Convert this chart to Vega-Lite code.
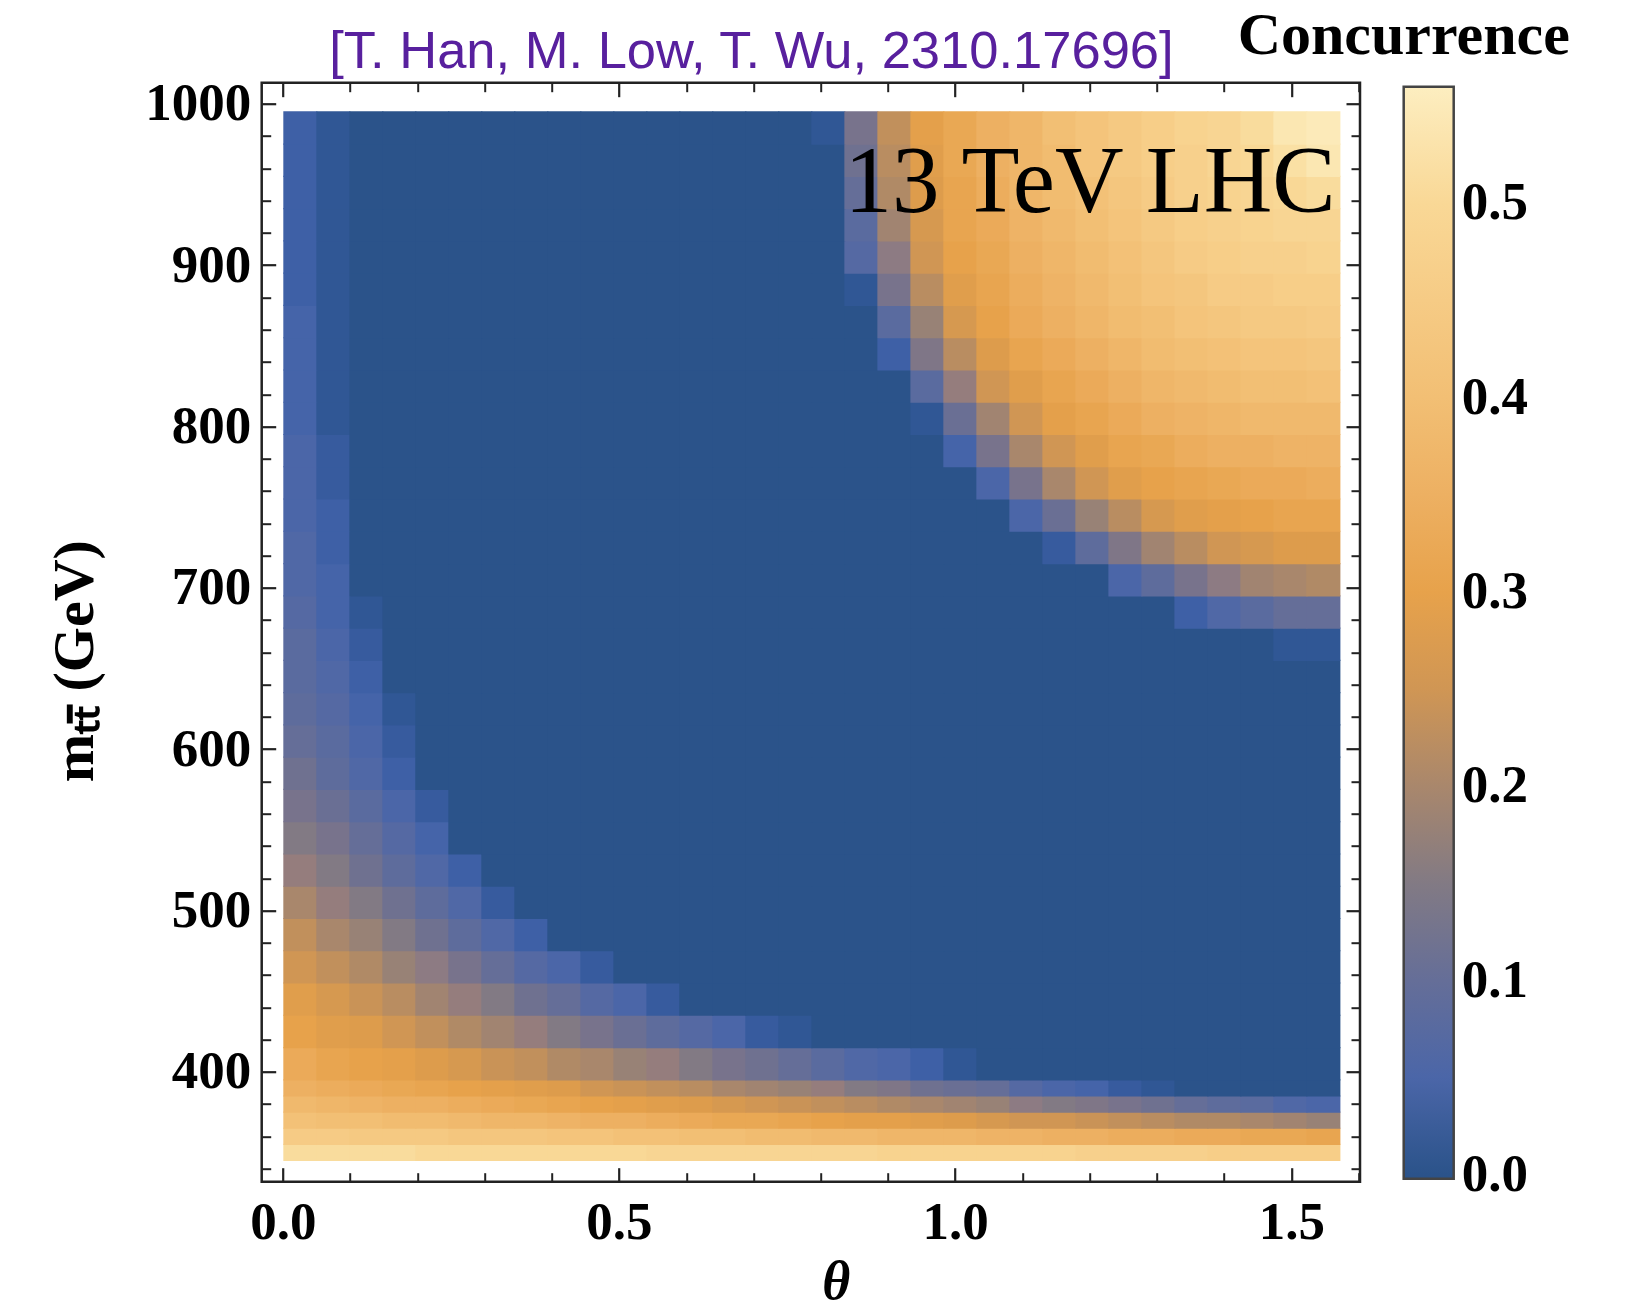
{
"$schema":"https://vega.github.io/schema/vega-lite/v6.json",
"width":1098.3,"height":1099,
"autosize":{"type":"none"},
"padding":{"left":261.7,"top":82.7,"right":284,"bottom":131.3},
"background":"white",
"config":{"view":{"stroke":"#222","strokeWidth":2.5}},
"datasets":{
"lo":[
{"t":0,"m":345,"c":0.51},{"t":0.0491,"m":345,"c":0.51},{"t":0.0982,"m":345,"c":0.51},{"t":0.1473,"m":345,"c":0.51},{"t":0.1963,"m":345,"c":0.5},{"t":0.2454,"m":345,"c":0.5},{"t":0.2945,"m":345,"c":0.5},{"t":0.3436,"m":345,"c":0.5},{"t":0.3927,"m":345,"c":0.5},{"t":0.4418,"m":345,"c":0.5},{"t":0.4909,"m":345,"c":0.5},{"t":0.54,"m":345,"c":0.49},{"t":0.589,"m":345,"c":0.49},{"t":0.6381,"m":345,"c":0.49},{"t":0.6872,"m":345,"c":0.49},{"t":0.7363,"m":345,"c":0.49},{"t":0.7854,"m":345,"c":0.49},{"t":0.8345,"m":345,"c":0.49},{"t":0.8836,"m":345,"c":0.48},{"t":0.9327,"m":345,"c":0.48},{"t":0.9817,"m":345,"c":0.48},{"t":1.0308,"m":345,"c":0.48},{"t":1.0799,"m":345,"c":0.48},{"t":1.129,"m":345,"c":0.48},{"t":1.1781,"m":345,"c":0.47},{"t":1.2272,"m":345,"c":0.47},{"t":1.2763,"m":345,"c":0.47},{"t":1.3254,"m":345,"c":0.47},{"t":1.3744,"m":345,"c":0.46},{"t":1.4235,"m":345,"c":0.46},{"t":1.4726,"m":345,"c":0.46},{"t":1.5217,"m":345,"c":0.46},
{"t":0,"m":355,"c":0.45},{"t":0.0491,"m":355,"c":0.45},{"t":0.0982,"m":355,"c":0.44},{"t":0.1473,"m":355,"c":0.44},{"t":0.1963,"m":355,"c":0.44},{"t":0.2454,"m":355,"c":0.43},{"t":0.2945,"m":355,"c":0.43},{"t":0.3436,"m":355,"c":0.43},{"t":0.3927,"m":355,"c":0.42},{"t":0.4418,"m":355,"c":0.42},{"t":0.4909,"m":355,"c":0.41},{"t":0.54,"m":355,"c":0.41},{"t":0.589,"m":355,"c":0.4},{"t":0.6381,"m":355,"c":0.4},{"t":0.6872,"m":355,"c":0.39},{"t":0.7363,"m":355,"c":0.39},{"t":0.7854,"m":355,"c":0.38},{"t":0.8345,"m":355,"c":0.38},{"t":0.8836,"m":355,"c":0.37},{"t":0.9327,"m":355,"c":0.37},{"t":0.9817,"m":355,"c":0.37},{"t":1.0308,"m":355,"c":0.36},{"t":1.0799,"m":355,"c":0.36},{"t":1.129,"m":355,"c":0.35},{"t":1.1781,"m":355,"c":0.35},{"t":1.2272,"m":355,"c":0.34},{"t":1.2763,"m":355,"c":0.34},{"t":1.3254,"m":355,"c":0.33},{"t":1.3744,"m":355,"c":0.33},{"t":1.4235,"m":355,"c":0.32},{"t":1.4726,"m":355,"c":0.32},{"t":1.5217,"m":355,"c":0.31},
{"t":0,"m":365,"c":0.41},{"t":0.0491,"m":365,"c":0.4},{"t":0.0982,"m":365,"c":0.4},{"t":0.1473,"m":365,"c":0.39},{"t":0.1963,"m":365,"c":0.39},{"t":0.2454,"m":365,"c":0.38},{"t":0.2945,"m":365,"c":0.37},{"t":0.3436,"m":365,"c":0.37},{"t":0.3927,"m":365,"c":0.36},{"t":0.4418,"m":365,"c":0.35},{"t":0.4909,"m":365,"c":0.35},{"t":0.54,"m":365,"c":0.34},{"t":0.589,"m":365,"c":0.33},{"t":0.6381,"m":365,"c":0.32},{"t":0.6872,"m":365,"c":0.32},{"t":0.7363,"m":365,"c":0.31},{"t":0.7854,"m":365,"c":0.3},{"t":0.8345,"m":365,"c":0.29},{"t":0.8836,"m":365,"c":0.29},{"t":0.9327,"m":365,"c":0.28},{"t":0.9817,"m":365,"c":0.27},{"t":1.0308,"m":365,"c":0.26},{"t":1.0799,"m":365,"c":0.25},{"t":1.129,"m":365,"c":0.25},{"t":1.1781,"m":365,"c":0.24},{"t":1.2272,"m":365,"c":0.23},{"t":1.2763,"m":365,"c":0.22},{"t":1.3254,"m":365,"c":0.21},{"t":1.3744,"m":365,"c":0.21},{"t":1.4235,"m":365,"c":0.2},{"t":1.4726,"m":365,"c":0.19},{"t":1.5217,"m":365,"c":0.18},
{"t":0,"m":375,"c":0.38},{"t":0.0491,"m":375,"c":0.37},{"t":0.0982,"m":375,"c":0.36},{"t":0.1473,"m":375,"c":0.35},{"t":0.1963,"m":375,"c":0.35},{"t":0.2454,"m":375,"c":0.34},{"t":0.2945,"m":375,"c":0.33},{"t":0.3436,"m":375,"c":0.32},{"t":0.3927,"m":375,"c":0.31},{"t":0.4418,"m":375,"c":0.3},{"t":0.4909,"m":375,"c":0.29},{"t":0.54,"m":375,"c":0.28},{"t":0.589,"m":375,"c":0.27},{"t":0.6381,"m":375,"c":0.26},{"t":0.6872,"m":375,"c":0.25},{"t":0.7363,"m":375,"c":0.24},{"t":0.7854,"m":375,"c":0.23},{"t":0.8345,"m":375,"c":0.22},{"t":0.8836,"m":375,"c":0.21},{"t":0.9327,"m":375,"c":0.2},{"t":0.9817,"m":375,"c":0.19},{"t":1.0308,"m":375,"c":0.18},{"t":1.0799,"m":375,"c":0.16},{"t":1.129,"m":375,"c":0.15},{"t":1.1781,"m":375,"c":0.14},{"t":1.2272,"m":375,"c":0.13},{"t":1.2763,"m":375,"c":0.12},{"t":1.3254,"m":375,"c":0.1},{"t":1.3744,"m":375,"c":0.09},{"t":1.4235,"m":375,"c":0.08},{"t":1.4726,"m":375,"c":0.06},{"t":1.5217,"m":375,"c":0.05},
{"t":0,"m":385,"c":0.35},{"t":0.0491,"m":385,"c":0.34},{"t":0.0982,"m":385,"c":0.33},{"t":0.1473,"m":385,"c":0.32},{"t":0.1963,"m":385,"c":0.31},{"t":0.2454,"m":385,"c":0.3},{"t":0.2945,"m":385,"c":0.29},{"t":0.3436,"m":385,"c":0.28},{"t":0.3927,"m":385,"c":0.27},{"t":0.4418,"m":385,"c":0.25},{"t":0.4909,"m":385,"c":0.24},{"t":0.54,"m":385,"c":0.23},{"t":0.589,"m":385,"c":0.22},{"t":0.6381,"m":385,"c":0.2},{"t":0.6872,"m":385,"c":0.19},{"t":0.7363,"m":385,"c":0.18},{"t":0.7854,"m":385,"c":0.17},{"t":0.8345,"m":385,"c":0.15},{"t":0.8836,"m":385,"c":0.14},{"t":0.9327,"m":385,"c":0.12},{"t":0.9817,"m":385,"c":0.11},{"t":1.0308,"m":385,"c":0.1},{"t":1.0799,"m":385,"c":0.07},{"t":1.129,"m":385,"c":0.05},{"t":1.1781,"m":385,"c":0.04},{"t":1.2272,"m":385,"c":0.02},{"t":1.2763,"m":385,"c":0.01},{"t":1.3254,"m":385,"c":0},{"t":1.3744,"m":385,"c":0},{"t":1.4235,"m":385,"c":0},{"t":1.4726,"m":385,"c":0},{"t":1.5217,"m":385,"c":0}
],
"hi":[
{"t":0,"m":395,"c":0.33},{"t":0.0491,"m":395,"c":0.31},{"t":0.0982,"m":395,"c":0.3},{"t":0.1473,"m":395,"c":0.29},{"t":0.1963,"m":395,"c":0.27},{"t":0.2454,"m":395,"c":0.26},{"t":0.2945,"m":395,"c":0.24},{"t":0.3436,"m":395,"c":0.23},{"t":0.3927,"m":395,"c":0.21},{"t":0.4418,"m":395,"c":0.2},{"t":0.4909,"m":395,"c":0.18},{"t":0.54,"m":395,"c":0.17},{"t":0.589,"m":395,"c":0.15},{"t":0.6381,"m":395,"c":0.13},{"t":0.6872,"m":395,"c":0.12},{"t":0.7363,"m":395,"c":0.1},{"t":0.7854,"m":395,"c":0.08},{"t":0.8345,"m":395,"c":0.06},{"t":0.8836,"m":395,"c":0.05},{"t":0.9327,"m":395,"c":0.03},{"t":0.9817,"m":395,"c":0.01},{"t":1.0308,"m":395,"c":0},{"t":1.0799,"m":395,"c":0},{"t":1.129,"m":395,"c":0},{"t":1.1781,"m":395,"c":0},{"t":1.2272,"m":395,"c":0},{"t":1.2763,"m":395,"c":0},{"t":1.3254,"m":395,"c":0},{"t":1.3744,"m":395,"c":0},{"t":1.4235,"m":395,"c":0},{"t":1.4726,"m":395,"c":0},{"t":1.5217,"m":395,"c":0},
{"t":0,"m":415,"c":0.3},{"t":0.0491,"m":415,"c":0.28},{"t":0.0982,"m":415,"c":0.27},{"t":0.1473,"m":415,"c":0.25},{"t":0.1963,"m":415,"c":0.23},{"t":0.2454,"m":415,"c":0.21},{"t":0.2945,"m":415,"c":0.19},{"t":0.3436,"m":415,"c":0.17},{"t":0.3927,"m":415,"c":0.15},{"t":0.4418,"m":415,"c":0.13},{"t":0.4909,"m":415,"c":0.11},{"t":0.54,"m":415,"c":0.09},{"t":0.589,"m":415,"c":0.07},{"t":0.6381,"m":415,"c":0.05},{"t":0.6872,"m":415,"c":0.02},{"t":0.7363,"m":415,"c":0.01},{"t":0.7854,"m":415,"c":0},{"t":0.8345,"m":415,"c":0},{"t":0.8836,"m":415,"c":0},{"t":0.9327,"m":415,"c":0},{"t":0.9817,"m":415,"c":0},{"t":1.0308,"m":415,"c":0},{"t":1.0799,"m":415,"c":0},{"t":1.129,"m":415,"c":0},{"t":1.1781,"m":415,"c":0},{"t":1.2272,"m":415,"c":0},{"t":1.2763,"m":415,"c":0},{"t":1.3254,"m":415,"c":0},{"t":1.3744,"m":415,"c":0},{"t":1.4235,"m":415,"c":0},{"t":1.4726,"m":415,"c":0},{"t":1.5217,"m":415,"c":0},
{"t":0,"m":435,"c":0.28},{"t":0.0491,"m":435,"c":0.26},{"t":0.0982,"m":435,"c":0.24},{"t":0.1473,"m":435,"c":0.22},{"t":0.1963,"m":435,"c":0.19},{"t":0.2454,"m":435,"c":0.17},{"t":0.2945,"m":435,"c":0.15},{"t":0.3436,"m":435,"c":0.12},{"t":0.3927,"m":435,"c":0.1},{"t":0.4418,"m":435,"c":0.07},{"t":0.4909,"m":435,"c":0.05},{"t":0.54,"m":435,"c":0.02},{"t":0.589,"m":435,"c":0},{"t":0.6381,"m":435,"c":0},{"t":0.6872,"m":435,"c":0},{"t":0.7363,"m":435,"c":0},{"t":0.7854,"m":435,"c":0},{"t":0.8345,"m":435,"c":0},{"t":0.8836,"m":435,"c":0},{"t":0.9327,"m":435,"c":0},{"t":0.9817,"m":435,"c":0},{"t":1.0308,"m":435,"c":0},{"t":1.0799,"m":435,"c":0},{"t":1.129,"m":435,"c":0},{"t":1.1781,"m":435,"c":0},{"t":1.2272,"m":435,"c":0},{"t":1.2763,"m":435,"c":0},{"t":1.3254,"m":435,"c":0},{"t":1.3744,"m":435,"c":0},{"t":1.4235,"m":435,"c":0},{"t":1.4726,"m":435,"c":0},{"t":1.5217,"m":435,"c":0},
{"t":0,"m":455,"c":0.25},{"t":0.0491,"m":455,"c":0.23},{"t":0.0982,"m":455,"c":0.21},{"t":0.1473,"m":455,"c":0.18},{"t":0.1963,"m":455,"c":0.16},{"t":0.2454,"m":455,"c":0.13},{"t":0.2945,"m":455,"c":0.1},{"t":0.3436,"m":455,"c":0.07},{"t":0.3927,"m":455,"c":0.05},{"t":0.4418,"m":455,"c":0.02},{"t":0.4909,"m":455,"c":0},{"t":0.54,"m":455,"c":0},{"t":0.589,"m":455,"c":0},{"t":0.6381,"m":455,"c":0},{"t":0.6872,"m":455,"c":0},{"t":0.7363,"m":455,"c":0},{"t":0.7854,"m":455,"c":0},{"t":0.8345,"m":455,"c":0},{"t":0.8836,"m":455,"c":0},{"t":0.9327,"m":455,"c":0},{"t":0.9817,"m":455,"c":0},{"t":1.0308,"m":455,"c":0},{"t":1.0799,"m":455,"c":0},{"t":1.129,"m":455,"c":0},{"t":1.1781,"m":455,"c":0},{"t":1.2272,"m":455,"c":0},{"t":1.2763,"m":455,"c":0},{"t":1.3254,"m":455,"c":0},{"t":1.3744,"m":455,"c":0},{"t":1.4235,"m":455,"c":0},{"t":1.4726,"m":455,"c":0},{"t":1.5217,"m":455,"c":0},
{"t":0,"m":475,"c":0.23},{"t":0.0491,"m":475,"c":0.2},{"t":0.0982,"m":475,"c":0.18},{"t":0.1473,"m":475,"c":0.15},{"t":0.1963,"m":475,"c":0.12},{"t":0.2454,"m":475,"c":0.09},{"t":0.2945,"m":475,"c":0.06},{"t":0.3436,"m":475,"c":0.03},{"t":0.3927,"m":475,"c":0},{"t":0.4418,"m":475,"c":0},{"t":0.4909,"m":475,"c":0},{"t":0.54,"m":475,"c":0},{"t":0.589,"m":475,"c":0},{"t":0.6381,"m":475,"c":0},{"t":0.6872,"m":475,"c":0},{"t":0.7363,"m":475,"c":0},{"t":0.7854,"m":475,"c":0},{"t":0.8345,"m":475,"c":0},{"t":0.8836,"m":475,"c":0},{"t":0.9327,"m":475,"c":0},{"t":0.9817,"m":475,"c":0},{"t":1.0308,"m":475,"c":0},{"t":1.0799,"m":475,"c":0},{"t":1.129,"m":475,"c":0},{"t":1.1781,"m":475,"c":0},{"t":1.2272,"m":475,"c":0},{"t":1.2763,"m":475,"c":0},{"t":1.3254,"m":475,"c":0},{"t":1.3744,"m":475,"c":0},{"t":1.4235,"m":475,"c":0},{"t":1.4726,"m":475,"c":0},{"t":1.5217,"m":475,"c":0},
{"t":0,"m":495,"c":0.2},{"t":0.0491,"m":495,"c":0.17},{"t":0.0982,"m":495,"c":0.15},{"t":0.1473,"m":495,"c":0.12},{"t":0.1963,"m":495,"c":0.09},{"t":0.2454,"m":495,"c":0.06},{"t":0.2945,"m":495,"c":0.02},{"t":0.3436,"m":495,"c":0},{"t":0.3927,"m":495,"c":0},{"t":0.4418,"m":495,"c":0},{"t":0.4909,"m":495,"c":0},{"t":0.54,"m":495,"c":0},{"t":0.589,"m":495,"c":0},{"t":0.6381,"m":495,"c":0},{"t":0.6872,"m":495,"c":0},{"t":0.7363,"m":495,"c":0},{"t":0.7854,"m":495,"c":0},{"t":0.8345,"m":495,"c":0},{"t":0.8836,"m":495,"c":0},{"t":0.9327,"m":495,"c":0},{"t":0.9817,"m":495,"c":0},{"t":1.0308,"m":495,"c":0},{"t":1.0799,"m":495,"c":0},{"t":1.129,"m":495,"c":0},{"t":1.1781,"m":495,"c":0},{"t":1.2272,"m":495,"c":0},{"t":1.2763,"m":495,"c":0},{"t":1.3254,"m":495,"c":0},{"t":1.3744,"m":495,"c":0},{"t":1.4235,"m":495,"c":0},{"t":1.4726,"m":495,"c":0},{"t":1.5217,"m":495,"c":0},
{"t":0,"m":515,"c":0.17},{"t":0.0491,"m":515,"c":0.15},{"t":0.0982,"m":515,"c":0.12},{"t":0.1473,"m":515,"c":0.09},{"t":0.1963,"m":515,"c":0.06},{"t":0.2454,"m":515,"c":0.03},{"t":0.2945,"m":515,"c":0},{"t":0.3436,"m":515,"c":0},{"t":0.3927,"m":515,"c":0},{"t":0.4418,"m":515,"c":0},{"t":0.4909,"m":515,"c":0},{"t":0.54,"m":515,"c":0},{"t":0.589,"m":515,"c":0},{"t":0.6381,"m":515,"c":0},{"t":0.6872,"m":515,"c":0},{"t":0.7363,"m":515,"c":0},{"t":0.7854,"m":515,"c":0},{"t":0.8345,"m":515,"c":0},{"t":0.8836,"m":515,"c":0},{"t":0.9327,"m":515,"c":0},{"t":0.9817,"m":515,"c":0},{"t":1.0308,"m":515,"c":0},{"t":1.0799,"m":515,"c":0},{"t":1.129,"m":515,"c":0},{"t":1.1781,"m":515,"c":0},{"t":1.2272,"m":515,"c":0},{"t":1.2763,"m":515,"c":0},{"t":1.3254,"m":515,"c":0},{"t":1.3744,"m":515,"c":0},{"t":1.4235,"m":515,"c":0},{"t":1.4726,"m":515,"c":0},{"t":1.5217,"m":515,"c":0},
{"t":0,"m":535,"c":0.15},{"t":0.0491,"m":535,"c":0.13},{"t":0.0982,"m":535,"c":0.1},{"t":0.1473,"m":535,"c":0.07},{"t":0.1963,"m":535,"c":0.04},{"t":0.2454,"m":535,"c":0},{"t":0.2945,"m":535,"c":0},{"t":0.3436,"m":535,"c":0},{"t":0.3927,"m":535,"c":0},{"t":0.4418,"m":535,"c":0},{"t":0.4909,"m":535,"c":0},{"t":0.54,"m":535,"c":0},{"t":0.589,"m":535,"c":0},{"t":0.6381,"m":535,"c":0},{"t":0.6872,"m":535,"c":0},{"t":0.7363,"m":535,"c":0},{"t":0.7854,"m":535,"c":0},{"t":0.8345,"m":535,"c":0},{"t":0.8836,"m":535,"c":0},{"t":0.9327,"m":535,"c":0},{"t":0.9817,"m":535,"c":0},{"t":1.0308,"m":535,"c":0},{"t":1.0799,"m":535,"c":0},{"t":1.129,"m":535,"c":0},{"t":1.1781,"m":535,"c":0},{"t":1.2272,"m":535,"c":0},{"t":1.2763,"m":535,"c":0},{"t":1.3254,"m":535,"c":0},{"t":1.3744,"m":535,"c":0},{"t":1.4235,"m":535,"c":0},{"t":1.4726,"m":535,"c":0},{"t":1.5217,"m":535,"c":0},
{"t":0,"m":555,"c":0.13},{"t":0.0491,"m":555,"c":0.11},{"t":0.0982,"m":555,"c":0.08},{"t":0.1473,"m":555,"c":0.05},{"t":0.1963,"m":555,"c":0.02},{"t":0.2454,"m":555,"c":0},{"t":0.2945,"m":555,"c":0},{"t":0.3436,"m":555,"c":0},{"t":0.3927,"m":555,"c":0},{"t":0.4418,"m":555,"c":0},{"t":0.4909,"m":555,"c":0},{"t":0.54,"m":555,"c":0},{"t":0.589,"m":555,"c":0},{"t":0.6381,"m":555,"c":0},{"t":0.6872,"m":555,"c":0},{"t":0.7363,"m":555,"c":0},{"t":0.7854,"m":555,"c":0},{"t":0.8345,"m":555,"c":0},{"t":0.8836,"m":555,"c":0},{"t":0.9327,"m":555,"c":0},{"t":0.9817,"m":555,"c":0},{"t":1.0308,"m":555,"c":0},{"t":1.0799,"m":555,"c":0},{"t":1.129,"m":555,"c":0},{"t":1.1781,"m":555,"c":0},{"t":1.2272,"m":555,"c":0},{"t":1.2763,"m":555,"c":0},{"t":1.3254,"m":555,"c":0},{"t":1.3744,"m":555,"c":0},{"t":1.4235,"m":555,"c":0},{"t":1.4726,"m":555,"c":0},{"t":1.5217,"m":555,"c":0},
{"t":0,"m":575,"c":0.12},{"t":0.0491,"m":575,"c":0.09},{"t":0.0982,"m":575,"c":0.06},{"t":0.1473,"m":575,"c":0.03},{"t":0.1963,"m":575,"c":0},{"t":0.2454,"m":575,"c":0},{"t":0.2945,"m":575,"c":0},{"t":0.3436,"m":575,"c":0},{"t":0.3927,"m":575,"c":0},{"t":0.4418,"m":575,"c":0},{"t":0.4909,"m":575,"c":0},{"t":0.54,"m":575,"c":0},{"t":0.589,"m":575,"c":0},{"t":0.6381,"m":575,"c":0},{"t":0.6872,"m":575,"c":0},{"t":0.7363,"m":575,"c":0},{"t":0.7854,"m":575,"c":0},{"t":0.8345,"m":575,"c":0},{"t":0.8836,"m":575,"c":0},{"t":0.9327,"m":575,"c":0},{"t":0.9817,"m":575,"c":0},{"t":1.0308,"m":575,"c":0},{"t":1.0799,"m":575,"c":0},{"t":1.129,"m":575,"c":0},{"t":1.1781,"m":575,"c":0},{"t":1.2272,"m":575,"c":0},{"t":1.2763,"m":575,"c":0},{"t":1.3254,"m":575,"c":0},{"t":1.3744,"m":575,"c":0},{"t":1.4235,"m":575,"c":0},{"t":1.4726,"m":575,"c":0},{"t":1.5217,"m":575,"c":0},
{"t":0,"m":595,"c":0.1},{"t":0.0491,"m":595,"c":0.08},{"t":0.0982,"m":595,"c":0.05},{"t":0.1473,"m":595,"c":0.02},{"t":0.1963,"m":595,"c":0},{"t":0.2454,"m":595,"c":0},{"t":0.2945,"m":595,"c":0},{"t":0.3436,"m":595,"c":0},{"t":0.3927,"m":595,"c":0},{"t":0.4418,"m":595,"c":0},{"t":0.4909,"m":595,"c":0},{"t":0.54,"m":595,"c":0},{"t":0.589,"m":595,"c":0},{"t":0.6381,"m":595,"c":0},{"t":0.6872,"m":595,"c":0},{"t":0.7363,"m":595,"c":0},{"t":0.7854,"m":595,"c":0},{"t":0.8345,"m":595,"c":0},{"t":0.8836,"m":595,"c":0},{"t":0.9327,"m":595,"c":0},{"t":0.9817,"m":595,"c":0},{"t":1.0308,"m":595,"c":0},{"t":1.0799,"m":595,"c":0},{"t":1.129,"m":595,"c":0},{"t":1.1781,"m":595,"c":0},{"t":1.2272,"m":595,"c":0},{"t":1.2763,"m":595,"c":0},{"t":1.3254,"m":595,"c":0},{"t":1.3744,"m":595,"c":0},{"t":1.4235,"m":595,"c":0},{"t":1.4726,"m":595,"c":0},{"t":1.5217,"m":595,"c":0},
{"t":0,"m":615,"c":0.09},{"t":0.0491,"m":615,"c":0.07},{"t":0.0982,"m":615,"c":0.04},{"t":0.1473,"m":615,"c":0.01},{"t":0.1963,"m":615,"c":0},{"t":0.2454,"m":615,"c":0},{"t":0.2945,"m":615,"c":0},{"t":0.3436,"m":615,"c":0},{"t":0.3927,"m":615,"c":0},{"t":0.4418,"m":615,"c":0},{"t":0.4909,"m":615,"c":0},{"t":0.54,"m":615,"c":0},{"t":0.589,"m":615,"c":0},{"t":0.6381,"m":615,"c":0},{"t":0.6872,"m":615,"c":0},{"t":0.7363,"m":615,"c":0},{"t":0.7854,"m":615,"c":0},{"t":0.8345,"m":615,"c":0},{"t":0.8836,"m":615,"c":0},{"t":0.9327,"m":615,"c":0},{"t":0.9817,"m":615,"c":0},{"t":1.0308,"m":615,"c":0},{"t":1.0799,"m":615,"c":0},{"t":1.129,"m":615,"c":0},{"t":1.1781,"m":615,"c":0},{"t":1.2272,"m":615,"c":0},{"t":1.2763,"m":615,"c":0},{"t":1.3254,"m":615,"c":0},{"t":1.3744,"m":615,"c":0},{"t":1.4235,"m":615,"c":0},{"t":1.4726,"m":615,"c":0},{"t":1.5217,"m":615,"c":0},
{"t":0,"m":635,"c":0.08},{"t":0.0491,"m":635,"c":0.06},{"t":0.0982,"m":635,"c":0.03},{"t":0.1473,"m":635,"c":0},{"t":0.1963,"m":635,"c":0},{"t":0.2454,"m":635,"c":0},{"t":0.2945,"m":635,"c":0},{"t":0.3436,"m":635,"c":0},{"t":0.3927,"m":635,"c":0},{"t":0.4418,"m":635,"c":0},{"t":0.4909,"m":635,"c":0},{"t":0.54,"m":635,"c":0},{"t":0.589,"m":635,"c":0},{"t":0.6381,"m":635,"c":0},{"t":0.6872,"m":635,"c":0},{"t":0.7363,"m":635,"c":0},{"t":0.7854,"m":635,"c":0},{"t":0.8345,"m":635,"c":0},{"t":0.8836,"m":635,"c":0},{"t":0.9327,"m":635,"c":0},{"t":0.9817,"m":635,"c":0},{"t":1.0308,"m":635,"c":0},{"t":1.0799,"m":635,"c":0},{"t":1.129,"m":635,"c":0},{"t":1.1781,"m":635,"c":0},{"t":1.2272,"m":635,"c":0},{"t":1.2763,"m":635,"c":0},{"t":1.3254,"m":635,"c":0},{"t":1.3744,"m":635,"c":0},{"t":1.4235,"m":635,"c":0},{"t":1.4726,"m":635,"c":0},{"t":1.5217,"m":635,"c":0},
{"t":0,"m":655,"c":0.08},{"t":0.0491,"m":655,"c":0.05},{"t":0.0982,"m":655,"c":0.02},{"t":0.1473,"m":655,"c":0},{"t":0.1963,"m":655,"c":0},{"t":0.2454,"m":655,"c":0},{"t":0.2945,"m":655,"c":0},{"t":0.3436,"m":655,"c":0},{"t":0.3927,"m":655,"c":0},{"t":0.4418,"m":655,"c":0},{"t":0.4909,"m":655,"c":0},{"t":0.54,"m":655,"c":0},{"t":0.589,"m":655,"c":0},{"t":0.6381,"m":655,"c":0},{"t":0.6872,"m":655,"c":0},{"t":0.7363,"m":655,"c":0},{"t":0.7854,"m":655,"c":0},{"t":0.8345,"m":655,"c":0},{"t":0.8836,"m":655,"c":0},{"t":0.9327,"m":655,"c":0},{"t":0.9817,"m":655,"c":0},{"t":1.0308,"m":655,"c":0},{"t":1.0799,"m":655,"c":0},{"t":1.129,"m":655,"c":0},{"t":1.1781,"m":655,"c":0},{"t":1.2272,"m":655,"c":0},{"t":1.2763,"m":655,"c":0},{"t":1.3254,"m":655,"c":0},{"t":1.3744,"m":655,"c":0},{"t":1.4235,"m":655,"c":0},{"t":1.4726,"m":655,"c":0.01},{"t":1.5217,"m":655,"c":0.01},
{"t":0,"m":675,"c":0.07},{"t":0.0491,"m":675,"c":0.04},{"t":0.0982,"m":675,"c":0.01},{"t":0.1473,"m":675,"c":0},{"t":0.1963,"m":675,"c":0},{"t":0.2454,"m":675,"c":0},{"t":0.2945,"m":675,"c":0},{"t":0.3436,"m":675,"c":0},{"t":0.3927,"m":675,"c":0},{"t":0.4418,"m":675,"c":0},{"t":0.4909,"m":675,"c":0},{"t":0.54,"m":675,"c":0},{"t":0.589,"m":675,"c":0},{"t":0.6381,"m":675,"c":0},{"t":0.6872,"m":675,"c":0},{"t":0.7363,"m":675,"c":0},{"t":0.7854,"m":675,"c":0},{"t":0.8345,"m":675,"c":0},{"t":0.8836,"m":675,"c":0},{"t":0.9327,"m":675,"c":0},{"t":0.9817,"m":675,"c":0},{"t":1.0308,"m":675,"c":0},{"t":1.0799,"m":675,"c":0},{"t":1.129,"m":675,"c":0},{"t":1.1781,"m":675,"c":0},{"t":1.2272,"m":675,"c":0},{"t":1.2763,"m":675,"c":0},{"t":1.3254,"m":675,"c":0.03},{"t":1.3744,"m":675,"c":0.06},{"t":1.4235,"m":675,"c":0.08},{"t":1.4726,"m":675,"c":0.1},{"t":1.5217,"m":675,"c":0.1},
{"t":0,"m":695,"c":0.06},{"t":0.0491,"m":695,"c":0.04},{"t":0.0982,"m":695,"c":0},{"t":0.1473,"m":695,"c":0},{"t":0.1963,"m":695,"c":0},{"t":0.2454,"m":695,"c":0},{"t":0.2945,"m":695,"c":0},{"t":0.3436,"m":695,"c":0},{"t":0.3927,"m":695,"c":0},{"t":0.4418,"m":695,"c":0},{"t":0.4909,"m":695,"c":0},{"t":0.54,"m":695,"c":0},{"t":0.589,"m":695,"c":0},{"t":0.6381,"m":695,"c":0},{"t":0.6872,"m":695,"c":0},{"t":0.7363,"m":695,"c":0},{"t":0.7854,"m":695,"c":0},{"t":0.8345,"m":695,"c":0},{"t":0.8836,"m":695,"c":0},{"t":0.9327,"m":695,"c":0},{"t":0.9817,"m":695,"c":0},{"t":1.0308,"m":695,"c":0},{"t":1.0799,"m":695,"c":0},{"t":1.129,"m":695,"c":0},{"t":1.1781,"m":695,"c":0},{"t":1.2272,"m":695,"c":0.05},{"t":1.2763,"m":695,"c":0.09},{"t":1.3254,"m":695,"c":0.13},{"t":1.3744,"m":695,"c":0.16},{"t":1.4235,"m":695,"c":0.19},{"t":1.4726,"m":695,"c":0.2},{"t":1.5217,"m":695,"c":0.21},
{"t":0,"m":715,"c":0.06},{"t":0.0491,"m":715,"c":0.03},{"t":0.0982,"m":715,"c":0},{"t":0.1473,"m":715,"c":0},{"t":0.1963,"m":715,"c":0},{"t":0.2454,"m":715,"c":0},{"t":0.2945,"m":715,"c":0},{"t":0.3436,"m":715,"c":0},{"t":0.3927,"m":715,"c":0},{"t":0.4418,"m":715,"c":0},{"t":0.4909,"m":715,"c":0},{"t":0.54,"m":715,"c":0},{"t":0.589,"m":715,"c":0},{"t":0.6381,"m":715,"c":0},{"t":0.6872,"m":715,"c":0},{"t":0.7363,"m":715,"c":0},{"t":0.7854,"m":715,"c":0},{"t":0.8345,"m":715,"c":0},{"t":0.8836,"m":715,"c":0},{"t":0.9327,"m":715,"c":0},{"t":0.9817,"m":715,"c":0},{"t":1.0308,"m":715,"c":0},{"t":1.0799,"m":715,"c":0},{"t":1.129,"m":715,"c":0.02},{"t":1.1781,"m":715,"c":0.09},{"t":1.2272,"m":715,"c":0.14},{"t":1.2763,"m":715,"c":0.19},{"t":1.3254,"m":715,"c":0.22},{"t":1.3744,"m":715,"c":0.25},{"t":1.4235,"m":715,"c":0.26},{"t":1.4726,"m":715,"c":0.27},{"t":1.5217,"m":715,"c":0.27},
{"t":0,"m":735,"c":0.05},{"t":0.0491,"m":735,"c":0.03},{"t":0.0982,"m":735,"c":0},{"t":0.1473,"m":735,"c":0},{"t":0.1963,"m":735,"c":0},{"t":0.2454,"m":735,"c":0},{"t":0.2945,"m":735,"c":0},{"t":0.3436,"m":735,"c":0},{"t":0.3927,"m":735,"c":0},{"t":0.4418,"m":735,"c":0},{"t":0.4909,"m":735,"c":0},{"t":0.54,"m":735,"c":0},{"t":0.589,"m":735,"c":0},{"t":0.6381,"m":735,"c":0},{"t":0.6872,"m":735,"c":0},{"t":0.7363,"m":735,"c":0},{"t":0.7854,"m":735,"c":0},{"t":0.8345,"m":735,"c":0},{"t":0.8836,"m":735,"c":0},{"t":0.9327,"m":735,"c":0},{"t":0.9817,"m":735,"c":0},{"t":1.0308,"m":735,"c":0},{"t":1.0799,"m":735,"c":0.05},{"t":1.129,"m":735,"c":0.11},{"t":1.1781,"m":735,"c":0.18},{"t":1.2272,"m":735,"c":0.22},{"t":1.2763,"m":735,"c":0.26},{"t":1.3254,"m":735,"c":0.28},{"t":1.3744,"m":735,"c":0.29},{"t":1.4235,"m":735,"c":0.3},{"t":1.4726,"m":735,"c":0.31},{"t":1.5217,"m":735,"c":0.31},
{"t":0,"m":755,"c":0.05},{"t":0.0491,"m":755,"c":0.02},{"t":0.0982,"m":755,"c":0},{"t":0.1473,"m":755,"c":0},{"t":0.1963,"m":755,"c":0},{"t":0.2454,"m":755,"c":0},{"t":0.2945,"m":755,"c":0},{"t":0.3436,"m":755,"c":0},{"t":0.3927,"m":755,"c":0},{"t":0.4418,"m":755,"c":0},{"t":0.4909,"m":755,"c":0},{"t":0.54,"m":755,"c":0},{"t":0.589,"m":755,"c":0},{"t":0.6381,"m":755,"c":0},{"t":0.6872,"m":755,"c":0},{"t":0.7363,"m":755,"c":0},{"t":0.7854,"m":755,"c":0},{"t":0.8345,"m":755,"c":0},{"t":0.8836,"m":755,"c":0},{"t":0.9327,"m":755,"c":0},{"t":0.9817,"m":755,"c":0},{"t":1.0308,"m":755,"c":0.05},{"t":1.0799,"m":755,"c":0.13},{"t":1.129,"m":755,"c":0.2},{"t":1.1781,"m":755,"c":0.25},{"t":1.2272,"m":755,"c":0.28},{"t":1.2763,"m":755,"c":0.3},{"t":1.3254,"m":755,"c":0.31},{"t":1.3744,"m":755,"c":0.32},{"t":1.4235,"m":755,"c":0.33},{"t":1.4726,"m":755,"c":0.33},{"t":1.5217,"m":755,"c":0.34},
{"t":0,"m":775,"c":0.05},{"t":0.0491,"m":775,"c":0.02},{"t":0.0982,"m":775,"c":0},{"t":0.1473,"m":775,"c":0},{"t":0.1963,"m":775,"c":0},{"t":0.2454,"m":775,"c":0},{"t":0.2945,"m":775,"c":0},{"t":0.3436,"m":775,"c":0},{"t":0.3927,"m":775,"c":0},{"t":0.4418,"m":775,"c":0},{"t":0.4909,"m":775,"c":0},{"t":0.54,"m":775,"c":0},{"t":0.589,"m":775,"c":0},{"t":0.6381,"m":775,"c":0},{"t":0.6872,"m":775,"c":0},{"t":0.7363,"m":775,"c":0},{"t":0.7854,"m":775,"c":0},{"t":0.8345,"m":775,"c":0},{"t":0.8836,"m":775,"c":0},{"t":0.9327,"m":775,"c":0},{"t":0.9817,"m":775,"c":0.04},{"t":1.0308,"m":775,"c":0.13},{"t":1.0799,"m":775,"c":0.2},{"t":1.129,"m":775,"c":0.25},{"t":1.1781,"m":775,"c":0.28},{"t":1.2272,"m":775,"c":0.31},{"t":1.2763,"m":775,"c":0.32},{"t":1.3254,"m":775,"c":0.34},{"t":1.3744,"m":775,"c":0.35},{"t":1.4235,"m":775,"c":0.35},{"t":1.4726,"m":775,"c":0.36},{"t":1.5217,"m":775,"c":0.36},
{"t":0,"m":795,"c":0.04},{"t":0.0491,"m":795,"c":0.01},{"t":0.0982,"m":795,"c":0},{"t":0.1473,"m":795,"c":0},{"t":0.1963,"m":795,"c":0},{"t":0.2454,"m":795,"c":0},{"t":0.2945,"m":795,"c":0},{"t":0.3436,"m":795,"c":0},{"t":0.3927,"m":795,"c":0},{"t":0.4418,"m":795,"c":0},{"t":0.4909,"m":795,"c":0},{"t":0.54,"m":795,"c":0},{"t":0.589,"m":795,"c":0},{"t":0.6381,"m":795,"c":0},{"t":0.6872,"m":795,"c":0},{"t":0.7363,"m":795,"c":0},{"t":0.7854,"m":795,"c":0},{"t":0.8345,"m":795,"c":0},{"t":0.8836,"m":795,"c":0},{"t":0.9327,"m":795,"c":0.01},{"t":0.9817,"m":795,"c":0.11},{"t":1.0308,"m":795,"c":0.19},{"t":1.0799,"m":795,"c":0.25},{"t":1.129,"m":795,"c":0.29},{"t":1.1781,"m":795,"c":0.31},{"t":1.2272,"m":795,"c":0.33},{"t":1.2763,"m":795,"c":0.35},{"t":1.3254,"m":795,"c":0.36},{"t":1.3744,"m":795,"c":0.37},{"t":1.4235,"m":795,"c":0.38},{"t":1.4726,"m":795,"c":0.38},{"t":1.5217,"m":795,"c":0.38},
{"t":0,"m":815,"c":0.04},{"t":0.0491,"m":815,"c":0.01},{"t":0.0982,"m":815,"c":0},{"t":0.1473,"m":815,"c":0},{"t":0.1963,"m":815,"c":0},{"t":0.2454,"m":815,"c":0},{"t":0.2945,"m":815,"c":0},{"t":0.3436,"m":815,"c":0},{"t":0.3927,"m":815,"c":0},{"t":0.4418,"m":815,"c":0},{"t":0.4909,"m":815,"c":0},{"t":0.54,"m":815,"c":0},{"t":0.589,"m":815,"c":0},{"t":0.6381,"m":815,"c":0},{"t":0.6872,"m":815,"c":0},{"t":0.7363,"m":815,"c":0},{"t":0.7854,"m":815,"c":0},{"t":0.8345,"m":815,"c":0},{"t":0.8836,"m":815,"c":0},{"t":0.9327,"m":815,"c":0.08},{"t":0.9817,"m":815,"c":0.17},{"t":1.0308,"m":815,"c":0.25},{"t":1.0799,"m":815,"c":0.28},{"t":1.129,"m":815,"c":0.31},{"t":1.1781,"m":815,"c":0.33},{"t":1.2272,"m":815,"c":0.35},{"t":1.2763,"m":815,"c":0.37},{"t":1.3254,"m":815,"c":0.38},{"t":1.3744,"m":815,"c":0.39},{"t":1.4235,"m":815,"c":0.4},{"t":1.4726,"m":815,"c":0.4},{"t":1.5217,"m":815,"c":0.41},
{"t":0,"m":835,"c":0.04},{"t":0.0491,"m":835,"c":0.01},{"t":0.0982,"m":835,"c":0},{"t":0.1473,"m":835,"c":0},{"t":0.1963,"m":835,"c":0},{"t":0.2454,"m":835,"c":0},{"t":0.2945,"m":835,"c":0},{"t":0.3436,"m":835,"c":0},{"t":0.3927,"m":835,"c":0},{"t":0.4418,"m":835,"c":0},{"t":0.4909,"m":835,"c":0},{"t":0.54,"m":835,"c":0},{"t":0.589,"m":835,"c":0},{"t":0.6381,"m":835,"c":0},{"t":0.6872,"m":835,"c":0},{"t":0.7363,"m":835,"c":0},{"t":0.7854,"m":835,"c":0},{"t":0.8345,"m":835,"c":0},{"t":0.8836,"m":835,"c":0.03},{"t":0.9327,"m":835,"c":0.14},{"t":0.9817,"m":835,"c":0.22},{"t":1.0308,"m":835,"c":0.27},{"t":1.0799,"m":835,"c":0.31},{"t":1.129,"m":835,"c":0.33},{"t":1.1781,"m":835,"c":0.35},{"t":1.2272,"m":835,"c":0.37},{"t":1.2763,"m":835,"c":0.39},{"t":1.3254,"m":835,"c":0.4},{"t":1.3744,"m":835,"c":0.41},{"t":1.4235,"m":835,"c":0.42},{"t":1.4726,"m":835,"c":0.42},{"t":1.5217,"m":835,"c":0.43},
{"t":0,"m":855,"c":0.04},{"t":0.0491,"m":855,"c":0.01},{"t":0.0982,"m":855,"c":0},{"t":0.1473,"m":855,"c":0},{"t":0.1963,"m":855,"c":0},{"t":0.2454,"m":855,"c":0},{"t":0.2945,"m":855,"c":0},{"t":0.3436,"m":855,"c":0},{"t":0.3927,"m":855,"c":0},{"t":0.4418,"m":855,"c":0},{"t":0.4909,"m":855,"c":0},{"t":0.54,"m":855,"c":0},{"t":0.589,"m":855,"c":0},{"t":0.6381,"m":855,"c":0},{"t":0.6872,"m":855,"c":0},{"t":0.7363,"m":855,"c":0},{"t":0.7854,"m":855,"c":0},{"t":0.8345,"m":855,"c":0},{"t":0.8836,"m":855,"c":0.08},{"t":0.9327,"m":855,"c":0.18},{"t":0.9817,"m":855,"c":0.26},{"t":1.0308,"m":855,"c":0.3},{"t":1.0799,"m":855,"c":0.33},{"t":1.129,"m":855,"c":0.35},{"t":1.1781,"m":855,"c":0.37},{"t":1.2272,"m":855,"c":0.39},{"t":1.2763,"m":855,"c":0.4},{"t":1.3254,"m":855,"c":0.42},{"t":1.3744,"m":855,"c":0.43},{"t":1.4235,"m":855,"c":0.44},{"t":1.4726,"m":855,"c":0.44},{"t":1.5217,"m":855,"c":0.45},
{"t":0,"m":875,"c":0.03},{"t":0.0491,"m":875,"c":0.01},{"t":0.0982,"m":875,"c":0},{"t":0.1473,"m":875,"c":0},{"t":0.1963,"m":875,"c":0},{"t":0.2454,"m":875,"c":0},{"t":0.2945,"m":875,"c":0},{"t":0.3436,"m":875,"c":0},{"t":0.3927,"m":875,"c":0},{"t":0.4418,"m":875,"c":0},{"t":0.4909,"m":875,"c":0},{"t":0.54,"m":875,"c":0},{"t":0.589,"m":875,"c":0},{"t":0.6381,"m":875,"c":0},{"t":0.6872,"m":875,"c":0},{"t":0.7363,"m":875,"c":0},{"t":0.7854,"m":875,"c":0},{"t":0.8345,"m":875,"c":0.01},{"t":0.8836,"m":875,"c":0.13},{"t":0.9327,"m":875,"c":0.22},{"t":0.9817,"m":875,"c":0.28},{"t":1.0308,"m":875,"c":0.31},{"t":1.0799,"m":875,"c":0.34},{"t":1.129,"m":875,"c":0.36},{"t":1.1781,"m":875,"c":0.38},{"t":1.2272,"m":875,"c":0.4},{"t":1.2763,"m":875,"c":0.42},{"t":1.3254,"m":875,"c":0.43},{"t":1.3744,"m":875,"c":0.45},{"t":1.4235,"m":875,"c":0.45},{"t":1.4726,"m":875,"c":0.46},{"t":1.5217,"m":875,"c":0.46},
{"t":0,"m":895,"c":0.03},{"t":0.0491,"m":895,"c":0.01},{"t":0.0982,"m":895,"c":0},{"t":0.1473,"m":895,"c":0},{"t":0.1963,"m":895,"c":0},{"t":0.2454,"m":895,"c":0},{"t":0.2945,"m":895,"c":0},{"t":0.3436,"m":895,"c":0},{"t":0.3927,"m":895,"c":0},{"t":0.4418,"m":895,"c":0},{"t":0.4909,"m":895,"c":0},{"t":0.54,"m":895,"c":0},{"t":0.589,"m":895,"c":0},{"t":0.6381,"m":895,"c":0},{"t":0.6872,"m":895,"c":0},{"t":0.7363,"m":895,"c":0},{"t":0.7854,"m":895,"c":0},{"t":0.8345,"m":895,"c":0.07},{"t":0.8836,"m":895,"c":0.16},{"t":0.9327,"m":895,"c":0.25},{"t":0.9817,"m":895,"c":0.3},{"t":1.0308,"m":895,"c":0.32},{"t":1.0799,"m":895,"c":0.35},{"t":1.129,"m":895,"c":0.37},{"t":1.1781,"m":895,"c":0.39},{"t":1.2272,"m":895,"c":0.41},{"t":1.2763,"m":895,"c":0.43},{"t":1.3254,"m":895,"c":0.45},{"t":1.3744,"m":895,"c":0.46},{"t":1.4235,"m":895,"c":0.47},{"t":1.4726,"m":895,"c":0.47},{"t":1.5217,"m":895,"c":0.48},
{"t":0,"m":915,"c":0.03},{"t":0.0491,"m":915,"c":0.01},{"t":0.0982,"m":915,"c":0},{"t":0.1473,"m":915,"c":0},{"t":0.1963,"m":915,"c":0},{"t":0.2454,"m":915,"c":0},{"t":0.2945,"m":915,"c":0},{"t":0.3436,"m":915,"c":0},{"t":0.3927,"m":915,"c":0},{"t":0.4418,"m":915,"c":0},{"t":0.4909,"m":915,"c":0},{"t":0.54,"m":915,"c":0},{"t":0.589,"m":915,"c":0},{"t":0.6381,"m":915,"c":0},{"t":0.6872,"m":915,"c":0},{"t":0.7363,"m":915,"c":0},{"t":0.7854,"m":915,"c":0},{"t":0.8345,"m":915,"c":0.08},{"t":0.8836,"m":915,"c":0.19},{"t":0.9327,"m":915,"c":0.26},{"t":0.9817,"m":915,"c":0.31},{"t":1.0308,"m":915,"c":0.33},{"t":1.0799,"m":915,"c":0.36},{"t":1.129,"m":915,"c":0.38},{"t":1.1781,"m":915,"c":0.4},{"t":1.2272,"m":915,"c":0.42},{"t":1.2763,"m":915,"c":0.44},{"t":1.3254,"m":915,"c":0.46},{"t":1.3744,"m":915,"c":0.47},{"t":1.4235,"m":915,"c":0.48},{"t":1.4726,"m":915,"c":0.49},{"t":1.5217,"m":915,"c":0.49},
{"t":0,"m":935,"c":0.03},{"t":0.0491,"m":935,"c":0.01},{"t":0.0982,"m":935,"c":0},{"t":0.1473,"m":935,"c":0},{"t":0.1963,"m":935,"c":0},{"t":0.2454,"m":935,"c":0},{"t":0.2945,"m":935,"c":0},{"t":0.3436,"m":935,"c":0},{"t":0.3927,"m":935,"c":0},{"t":0.4418,"m":935,"c":0},{"t":0.4909,"m":935,"c":0},{"t":0.54,"m":935,"c":0},{"t":0.589,"m":935,"c":0},{"t":0.6381,"m":935,"c":0},{"t":0.6872,"m":935,"c":0},{"t":0.7363,"m":935,"c":0},{"t":0.7854,"m":935,"c":0},{"t":0.8345,"m":935,"c":0.1},{"t":0.8836,"m":935,"c":0.21},{"t":0.9327,"m":935,"c":0.27},{"t":0.9817,"m":935,"c":0.31},{"t":1.0308,"m":935,"c":0.34},{"t":1.0799,"m":935,"c":0.37},{"t":1.129,"m":935,"c":0.39},{"t":1.1781,"m":935,"c":0.41},{"t":1.2272,"m":935,"c":0.43},{"t":1.2763,"m":935,"c":0.45},{"t":1.3254,"m":935,"c":0.47},{"t":1.3744,"m":935,"c":0.48},{"t":1.4235,"m":935,"c":0.49},{"t":1.4726,"m":935,"c":0.5},{"t":1.5217,"m":935,"c":0.51},
{"t":0,"m":955,"c":0.03},{"t":0.0491,"m":955,"c":0.01},{"t":0.0982,"m":955,"c":0},{"t":0.1473,"m":955,"c":0},{"t":0.1963,"m":955,"c":0},{"t":0.2454,"m":955,"c":0},{"t":0.2945,"m":955,"c":0},{"t":0.3436,"m":955,"c":0},{"t":0.3927,"m":955,"c":0},{"t":0.4418,"m":955,"c":0},{"t":0.4909,"m":955,"c":0},{"t":0.54,"m":955,"c":0},{"t":0.589,"m":955,"c":0},{"t":0.6381,"m":955,"c":0},{"t":0.6872,"m":955,"c":0},{"t":0.7363,"m":955,"c":0},{"t":0.7854,"m":955,"c":0},{"t":0.8345,"m":955,"c":0.12},{"t":0.8836,"m":955,"c":0.22},{"t":0.9327,"m":955,"c":0.28},{"t":0.9817,"m":955,"c":0.32},{"t":1.0308,"m":955,"c":0.35},{"t":1.0799,"m":955,"c":0.37},{"t":1.129,"m":955,"c":0.39},{"t":1.1781,"m":955,"c":0.42},{"t":1.2272,"m":955,"c":0.44},{"t":1.2763,"m":955,"c":0.46},{"t":1.3254,"m":955,"c":0.47},{"t":1.3744,"m":955,"c":0.49},{"t":1.4235,"m":955,"c":0.5},{"t":1.4726,"m":955,"c":0.52},{"t":1.5217,"m":955,"c":0.54},
{"t":0,"m":975,"c":0.03},{"t":0.0491,"m":975,"c":0.01},{"t":0.0982,"m":975,"c":0},{"t":0.1473,"m":975,"c":0},{"t":0.1963,"m":975,"c":0},{"t":0.2454,"m":975,"c":0},{"t":0.2945,"m":975,"c":0},{"t":0.3436,"m":975,"c":0},{"t":0.3927,"m":975,"c":0},{"t":0.4418,"m":975,"c":0},{"t":0.4909,"m":975,"c":0},{"t":0.54,"m":975,"c":0},{"t":0.589,"m":975,"c":0},{"t":0.6381,"m":975,"c":0},{"t":0.6872,"m":975,"c":0},{"t":0.7363,"m":975,"c":0},{"t":0.7854,"m":975,"c":0.01},{"t":0.8345,"m":975,"c":0.13},{"t":0.8836,"m":975,"c":0.23},{"t":0.9327,"m":975,"c":0.29},{"t":0.9817,"m":975,"c":0.32},{"t":1.0308,"m":975,"c":0.35},{"t":1.0799,"m":975,"c":0.37},{"t":1.129,"m":975,"c":0.4},{"t":1.1781,"m":975,"c":0.42},{"t":1.2272,"m":975,"c":0.44},{"t":1.2763,"m":975,"c":0.46},{"t":1.3254,"m":975,"c":0.48},{"t":1.3744,"m":975,"c":0.49},{"t":1.4235,"m":975,"c":0.51},{"t":1.4726,"m":975,"c":0.54},{"t":1.5217,"m":975,"c":0.55}
]
},
"resolve":{"axis":{"x":"independent","y":"independent"}},
"layer":[
{"data":{"name":"lo"},
 "mark":{"type":"rect"},
 "encoding":{
  "x":{"field":"t","type":"quantitative","bin":{"binned":true,"step":0.0506},
   "scale":{"domain":[-0.0314,1.6022],"nice":false,"zero":false},
   "axis":{"orient":"bottom","values":[0,0.5,1,1.5],"format":".1f","ticks":false,"domain":false,"grid":false,"labelFlush":false,"labelOverlap":false,
    "labelFont":"Liberation Serif","labelFontWeight":"bold","labelFontSize":53,"labelColor":"black","labelPadding":15,
    "title":"θ","titleFont":"Liberation Serif","titleFontStyle":"italic","titleFontWeight":"bold","titleFontSize":54,"titleColor":"black","titlePadding":6,"titleX":574}},
  "y":{"field":"m","type":"quantitative","bin":{"binned":true,"step":10.7},
   "scale":{"domain":[331.9,1013.1],"nice":false,"zero":false},
   "axis":{"orient":"left","values":[400,500,600,700,800,900,1000],"format":"d","ticks":false,"domain":false,"grid":false,"labelFlush":false,"labelOverlap":false,
    "labelFont":"Liberation Serif","labelFontWeight":"bold","labelFontSize":53,"labelColor":"black","labelPadding":11,
    "title":"m\u209c\u209c\u0304 (GeV)","titleFont":"Liberation Serif","titleFontWeight":"bold","titleFontSize":58,"titleColor":"black","titlePadding":40,"titleY":578}},
  "color":{"field":"c","type":"quantitative",
   "scale":{"domain":[-0.002,0.015,0.035,0.06,0.09,0.12,0.15,0.18,0.21,0.24,0.27,0.3,0.35,0.4,0.45,0.5,0.56],
    "range":["#2a5288","#33599a","#4263aa","#5068a6","#5e6c9c","#6f7190","#827a84","#988276","#b08a66","#c99357","#dd9c4c","#e7a24b","#edb062","#f2bf74","#f6cb85","#f9d896","#fdeec0"]},
   "legend":{"title":"Concurrence","orient":"none","legendX":976,"legendY":-76,"direction":"vertical","type":"gradient",
    "gradientLength":1092,"gradientThickness":50,"gradientStrokeColor":"#444","gradientStrokeWidth":2.5,
    "values":[0,0.1,0.2,0.3,0.4,0.5],"format":".1f","labelOverlap":false,
    "labelFont":"Liberation Serif","labelFontWeight":"bold","labelFontSize":53,"labelColor":"black","labelOffset":8,"labelBaseline":"middle",
    "titleFont":"Liberation Serif","titleFontWeight":"bold","titleFontSize":60,"titleColor":"black","titleAnchor":"start","titleAlign":"center","titlePadding":20,"titleLimit":800}}
 }},
{"data":{"name":"hi"},
 "mark":{"type":"rect"},
 "encoding":{
  "x":{"field":"t","type":"quantitative","bin":{"binned":true,"step":0.0506},
   "scale":{"domain":[-0.0314,1.6022],"nice":false,"zero":false},
   "axis":{"orient":"bottom","values":[0,0.5,1,1.5],"labels":false,"domain":false,"grid":false,"ticks":true,"tickSize":-14,"tickWidth":2.2,"tickColor":"#222","title":null,"zindex":1}},
  "y":{"field":"m","type":"quantitative","bin":{"binned":true,"step":20.7},
   "scale":{"domain":[331.9,1013.1],"nice":false,"zero":false},
   "axis":{"orient":"left","values":[400,500,600,700,800,900,1000],"labels":false,"domain":false,"grid":false,"ticks":true,"tickSize":-14,"tickWidth":2.2,"tickColor":"#222","title":null,"zindex":1}},
  "color":{"field":"c","type":"quantitative"}
 }},
{"data":{"values":[{"label":"13 TeV LHC"}]},
 "mark":{"type":"text","font":"Liberation Serif","fontSize":95,"align":"right","baseline":"alphabetic","color":"black"},
 "encoding":{
  "x":{"datum":1.566,"type":"quantitative",
   "axis":{"orient":"bottom","values":[0.1,0.2,0.3,0.4,0.6,0.7,0.8,0.9,1.1,1.2,1.3,1.4,1.6],"labels":false,"domain":false,"grid":false,"ticks":true,"tickSize":-9,"tickWidth":2,"tickColor":"#222","title":null,"zindex":1}},
  "y":{"datum":933,"type":"quantitative",
   "axis":{"orient":"left","values":[340,360,380,420,440,460,480,520,540,560,580,620,640,660,680,720,740,760,780,820,840,860,880,920,940,960,980],"labels":false,"domain":false,"grid":false,"ticks":true,"tickSize":-9,"tickWidth":2,"tickColor":"#222","title":null,"zindex":1}},
  "text":{"field":"label"}
 }},
{"data":{"values":[{"label":"[T. Han, M. Low, T. Wu, 2310.17696]"}]},
 "mark":{"type":"text","font":"Liberation Sans","fontSize":52.5,"align":"center","baseline":"alphabetic","color":"#58209e"},
 "encoding":{
  "x":{"datum":0.697,"type":"quantitative",
   "axis":{"orient":"top","values":[0,0.5,1,1.5],"labels":false,"domain":false,"grid":false,"ticks":true,"tickSize":-14,"tickWidth":2.2,"tickColor":"#222","title":null,"zindex":1}},
  "y":{"datum":1022,"type":"quantitative",
   "axis":{"orient":"right","values":[400,500,600,700,800,900,1000],"labels":false,"domain":false,"grid":false,"ticks":true,"tickSize":-14,"tickWidth":2.2,"tickColor":"#222","title":null,"zindex":1}},
  "text":{"field":"label"}
 }},
{"data":{"values":[{"label":""}]},
 "mark":{"type":"point","opacity":0},
 "encoding":{
  "x":{"datum":0.5,"type":"quantitative",
   "axis":{"orient":"top","values":[0.1,0.2,0.3,0.4,0.6,0.7,0.8,0.9,1.1,1.2,1.3,1.4,1.6],"labels":false,"domain":false,"grid":false,"ticks":true,"tickSize":-9,"tickWidth":2,"tickColor":"#222","title":null,"zindex":1}},
  "y":{"datum":500,"type":"quantitative",
   "axis":{"orient":"right","values":[340,360,380,420,440,460,480,520,540,560,580,620,640,660,680,720,740,760,780,820,840,860,880,920,940,960,980],"labels":false,"domain":false,"grid":false,"ticks":true,"tickSize":-9,"tickWidth":2,"tickColor":"#222","title":null,"zindex":1}}
 }}
]
}
